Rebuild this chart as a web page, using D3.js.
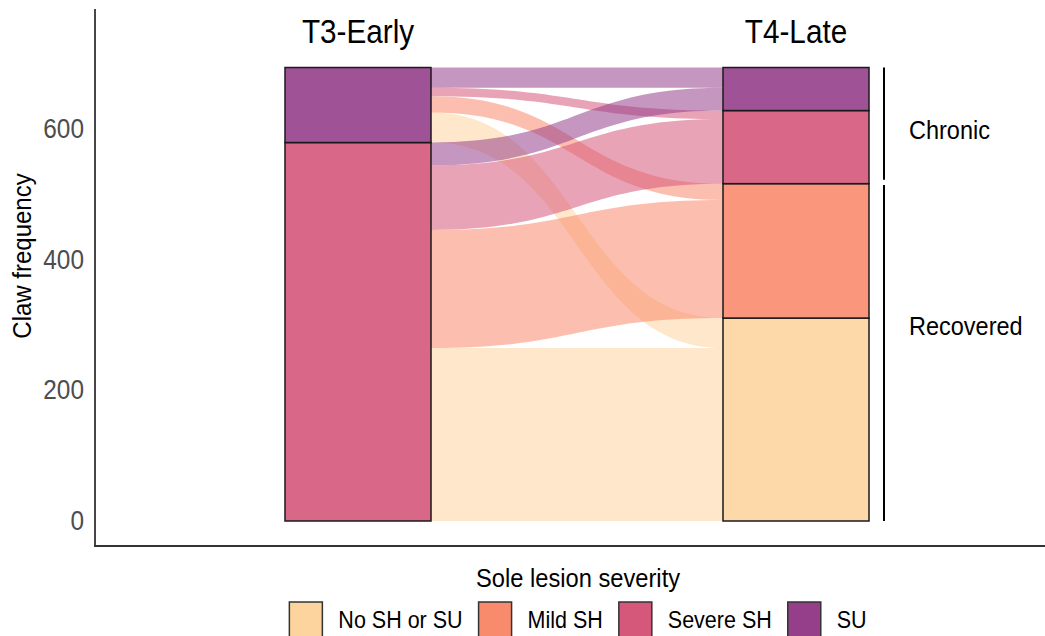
<!DOCTYPE html>
<html>
<head>
<meta charset="utf-8">
<script src="https://cdn.jsdelivr.net/npm/d3@7"></script>
<style>
  body { margin: 0; background: #fff; }
  text { font-family: "Liberation Sans", Arial, sans-serif; }
</style>
</head>
<body>
<script>
// categories, stacked bottom -> top
var categories = ["No SH or SU", "Mild SH", "Severe SH", "SU"];
var colours = ["#FDD49E", "#F98B6D", "#D5577A", "#953F8B"];
var timepoints = ["T3-Early", "T4-Late"];

// claws moving from T3 (source) to T4 (target)
var flowSource = ["Severe SH", "Severe SH", "Severe SH", "Severe SH", "SU", "SU", "SU", "SU"];
var flowTarget = ["No SH or SU", "Mild SH", "Severe SH", "SU", "No SH or SU", "Mild SH", "Severe SH", "SU"];
var flowCount  = [265, 181, 99, 35, 46, 25, 13, 31];

var yTicks = [0, 200, 400, 600];

// brackets at the right of T4
var groupNames = ["Chronic", "Recovered"];
var groupLow   = [523, 0];
var groupHigh  = [695, 515];
var groupAt    = [600, 300];

var W = 1045, H = 636;
var stretch = 1.1;   // the glyphs in the picture are a bit taller than Arial

var svg = d3.select("body").append("svg")
    .attr("width", W)
    .attr("height", H);

var x = d3.scalePoint()
    .domain(timepoints)
    .range([358, 796]);
var boxW = 146;

var y = d3.scaleLinear()
    .domain([0, 600])
    .range([521, 129.5]);

var colour = d3.scaleOrdinal()
    .domain(categories)
    .range(colours);

// stratum totals at each time point
var strata = [];
timepoints.forEach(function(tp, ti) {
  var base = 0;
  categories.forEach(function(cat) {
    var n = 0;
    flowCount.forEach(function(c, i) {
      if ((ti == 0 ? flowSource[i] : flowTarget[i]) == cat) n += c;
    });
    if (n > 0) strata.push({tp: tp, cat: cat, y0: base, y1: base + n});
    base += n;
  });
});

function findStratum(tp, cat) {
  return strata.filter(function(s) { return s.tp == tp && s.cat == cat; })[0];
}

// position of each flow inside its strata
var flows = flowCount.map(function(c, i) {
  return {source: flowSource[i], target: flowTarget[i], n: c};
});
var idx = function(c) { return categories.indexOf(c); };

categories.forEach(function(cat) {
  var s = findStratum(timepoints[0], cat);
  if (s) {
    var b = s.y0;
    flows.filter(function(f) { return f.source == cat; })
      .sort(function(a, c) { return idx(a.target) - idx(c.target); })
      .forEach(function(f) { f.l0 = b; f.l1 = b + f.n; b += f.n; });
  }
  var t = findStratum(timepoints[1], cat);
  if (t) {
    var b2 = t.y0;
    flows.filter(function(f) { return f.target == cat; })
      .sort(function(a, c) { return idx(a.source) - idx(c.source); })
      .forEach(function(f) { f.r0 = b2; f.r1 = b2 + f.n; b2 += f.n; });
  }
});

// lighter targets are painted first, like in the original
flows.sort(function(a, c) { return idx(a.target) - idx(c.target) || idx(a.source) - idx(c.source); });

function flowPath(f) {
  var x0 = x(timepoints[0]) + boxW / 2,
      x1 = x(timepoints[1]) - boxW / 2,
      xm = (x0 + x1) / 2;
  var p = d3.path();
  p.moveTo(x0, y(f.l1));
  p.bezierCurveTo(xm, y(f.l1), xm, y(f.r1), x1, y(f.r1));
  p.lineTo(x1, y(f.r0));
  p.bezierCurveTo(xm, y(f.r0), xm, y(f.l0), x0, y(f.l0));
  p.closePath();
  return p.toString();
}

// flows, coloured by the T4 category
svg.append("g").selectAll("path")
    .data(flows)
  .enter().append("path")
    .attr("d", flowPath)
    .attr("fill", function(d) { return colour(d.target); })
    .attr("fill-opacity", 0.55);

// strata
svg.append("g").selectAll("rect")
    .data(strata)
  .enter().append("rect")
    .attr("x", function(d) { return x(d.tp) - boxW / 2; })
    .attr("y", function(d) { return y(d.y1); })
    .attr("width", boxW)
    .attr("height", function(d) { return y(d.y0) - y(d.y1); })
    .attr("fill", function(d) { return colour(d.cat); })
    .attr("fill-opacity", 0.9)
    .attr("stroke", "#1a1a1a")
    .attr("stroke-width", 1.5);

// helper for text with the taller glyphs
function label(g, tx, ty, str, size, anchor, rot) {
  return g.append("text")
      .attr("transform", "translate(" + tx + "," + ty + ")" +
            (rot ? " rotate(" + rot + ")" : "") + " scale(1," + stretch + ")")
      .attr("text-anchor", anchor)
      .style("font-size", size + "px")
      .attr("fill", "#000")
      .text(str);
}

// time point headers
timepoints.forEach(function(tp) {
  label(svg, x(tp), 42.5, tp, 29.7, "middle");
});

// y axis
var yAxis = svg.append("g")
    .attr("transform", "translate(95,0)")
    .call(d3.axisLeft(y).tickValues(yTicks).tickSize(0).tickPadding(11));
yAxis.select(".domain").remove();
yAxis.selectAll("text")
    .style("font-size", "24.4px")
    .attr("fill", "#4D4D4D")
    .attr("transform", "scale(1," + stretch + ")")
    .attr("y", 0)
    .attr("dy", (0.34 / stretch) + "em");

svg.append("line")
    .attr("x1", 95).attr("x2", 95)
    .attr("y1", 9).attr("y2", 546.5)
    .attr("stroke", "#333").attr("stroke-width", 1.8);
svg.append("line")
    .attr("x1", 94).attr("x2", W)
    .attr("y1", 546).attr("y2", 546)
    .attr("stroke", "#333").attr("stroke-width", 1.8);

label(svg, 31, 256, "Claw frequency", 24, "middle", -90);

// Chronic / Recovered brackets
groupNames.forEach(function(name, i) {
  svg.append("line")
      .attr("x1", 884).attr("x2", 884)
      .attr("y1", y(groupHigh[i])).attr("y2", y(groupLow[i]))
      .attr("stroke", "#000").attr("stroke-width", 2);
  label(svg, 909, y(groupAt[i]) + 0.358 * 23.5 * stretch, name, 23.5, "start");
});

// legend
label(svg, 578, 587, "Sole lesion severity", 23.7, "middle");

var legend = svg.append("g");
var key = 33, gap = 16, items = [];
categories.forEach(function(cat) {
  var t = label(legend, 0, 627.5, cat, 21.5, "start");
  items.push({cat: cat, node: t, w: t.node().getComputedTextLength()});
});
var total = d3.sum(items, function(d) { return d.w; }) + items.length * (key + gap) + (items.length - 1) * gap;
var lx = 578 - total / 2;
items.forEach(function(it) {
  legend.append("rect")
      .attr("x", lx).attr("y", 602)
      .attr("width", key).attr("height", 35)
      .attr("fill", colour(it.cat))
      .attr("stroke", "#333").attr("stroke-width", 1.5);
  it.node.attr("transform", "translate(" + (lx + key + gap) + ",627.5) scale(1," + stretch + ")");
  lx += key + gap + it.w + gap;
});
</script>
</body>
</html>
